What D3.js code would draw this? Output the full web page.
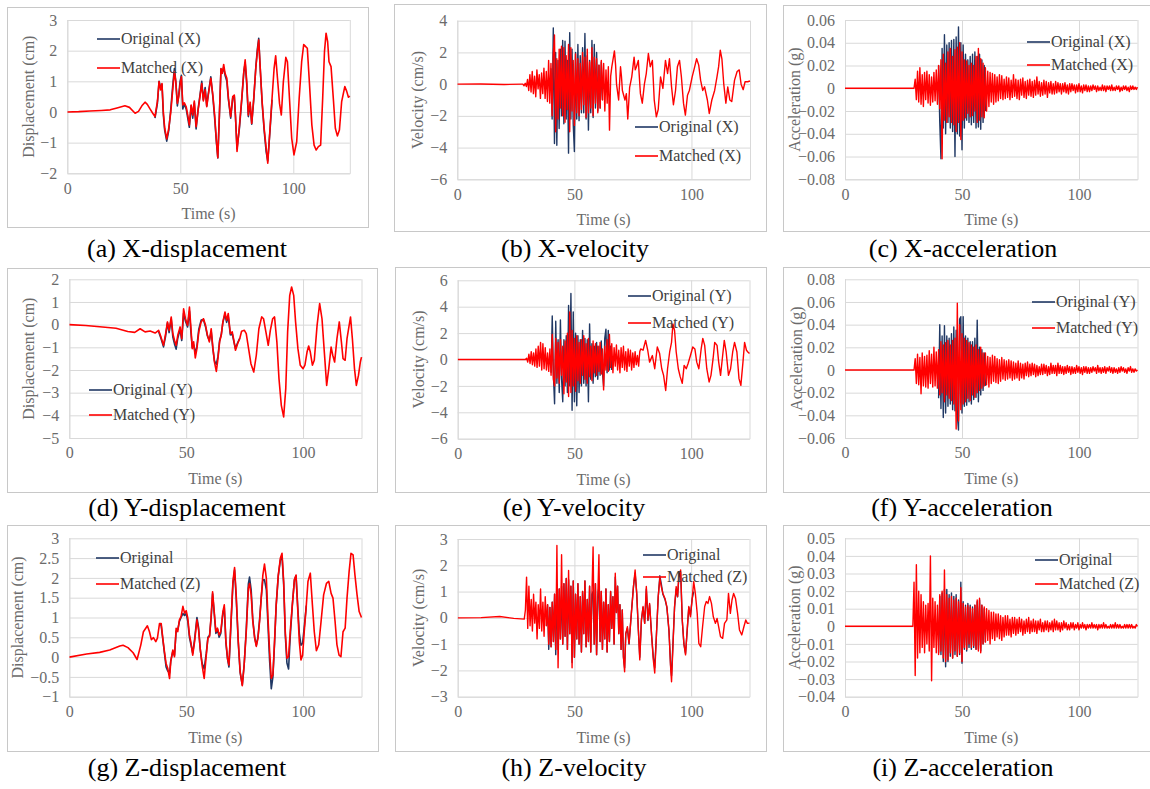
<!DOCTYPE html>
<html>
<head>
<meta charset="utf-8">
<script src="https://cdn.jsdelivr.net/npm/d3@7"></script>
<style>
  body { margin: 0; background: #fff; }
  svg { display: block; font-family: "Liberation Serif", "Times New Roman", serif; }
</style>
</head>
<body>
<svg id="chart" width="1150" height="789"></svg>
<script>
// ---------------------------------------------------------------------------
// Time axis shared by all nine panels
const timeTicks = [0, 50, 100];
const timeMax = 125;

// ---------------------------------------------------------------------------
// Displacement records: [time (s), displacement (cm)]
const dispXMatched = [[0,0],[5,0.01],[10,0.03],[15,0.05],[19,0.07],[22,0.13],[25.5,0.2],[27.5,0.15],[30,-0.04],[31.5,0.02],[33,0.2],[34.4,0.32],[35.4,0.25],[36.6,0.1],[37.8,-0.04],[38.8,-0.15],[39.9,0.36],[40.6,0.99],[41.3,0.72],[41.9,0.93],[42.5,0],[43.1,-0.53],[44,-0.88],[44.9,-0.53],[45.8,0],[46.7,0.77],[47.4,1.32],[48,0.99],[48.7,0.28],[49.3,0.5],[49.9,0.88],[50.5,1.15],[51.1,0.23],[51.8,0.3],[52.6,0.17],[53.3,-0.1],[54,-0.42],[54.8,0.23],[55.5,-0.1],[56.2,0.36],[57,-0.48],[57.9,0.07],[58.8,0.55],[59.5,0.93],[60.2,0.36],[61,0.72],[61.7,0.17],[62.3,0.5],[63.5,1.1],[64.4,0.55],[65.2,-0.1],[66,-0.97],[66.6,-1.49],[67.3,-0.1],[68,1.42],[68.6,1.26],[69.2,1.55],[69.8,1.26],[70.6,1.1],[71.3,0.45],[72.3,-0.15],[73.2,0.5],[73.9,0.55],[74.4,-0.1],[75.1,-1.29],[76.2,-0.42],[77.2,0.45],[78.1,1.32],[78.7,1.7],[79.4,0.99],[80.1,-0.1],[80.9,0.32],[81.6,-0.37],[82.5,0.45],[83.4,1.42],[84.1,1.97],[84.7,2.35],[85.3,1.53],[86.2,0.34],[87.1,-0.53],[88,-1.18],[88.7,-1.67],[89.7,-0.53],[90.6,0.45],[91.5,1.42],[92.2,1.83],[93,1.1],[93.9,0.28],[94.7,-0.1],[95.6,0.99],[96.7,1.78],[97.4,1.64],[98.3,0.45],[99.3,-0.86],[100.3,-1.4],[101.5,-0.97],[102.6,0.45],[103.7,1.64],[104.6,2.2],[105.5,2.13],[106.2,2.08],[107.1,0.99],[108.2,-0.42],[109.2,-1.08],[110.1,-1.24],[111.1,-1.13],[112.1,-1.08],[113,0.45],[113.8,1.97],[114.5,2.57],[115.2,2.29],[115.8,1.64],[116.7,1.48],[117.8,0.34],[118.6,-0.53],[119.5,-0.78],[120.4,-0.59],[121.4,0.34],[122.8,0.83],[123.6,0.68],[124.4,0.48],[125,0.52]];
const dispXOriginal = [[38.8,-0.2],[39.9,0.3],[40.6,1.0],[41.3,0.8],[41.9,0.9],[42.5,-0.1],[43.1,-0.6],[44,-0.95],[44.9,-0.6],[45.8,0.1],[46.7,0.9],[47.4,1.42],[48,1.0],[48.7,0.2],[49.3,0.55],[49.9,1.0],[50.5,1.2],[51.1,0.1],[51.8,0.25],[52.6,0.1],[53.3,-0.2],[54,-0.5],[54.8,0.2],[55.5,-0.2],[56.2,0.3],[57,-0.55],[57.9,0.1],[58.8,0.6],[59.5,1.0],[60.2,0.4],[61,0.8],[61.7,0.2],[62.3,0.55],[63.5,1.15],[64.4,0.5],[65.2,-0.2],[66,-1.0],[66.6,-1.5],[67.3,-0.1],[68,1.4],[68.6,1.3],[69.2,1.45],[69.8,1.2],[70.6,1.0],[71.3,0.4],[72.3,-0.2],[73.2,0.45],[73.9,0.5],[74.4,-0.15],[75.1,-1.2],[76.2,-0.5],[77.2,0.4],[78.1,1.3],[78.7,1.6],[79.4,0.9],[80.1,-0.15],[80.9,0.25],[81.6,-0.4],[82.5,0.4],[83.4,1.45],[84.1,2.05],[84.7,2.4],[85.3,1.5],[86.2,0.3],[87.1,-0.6],[88,-1.3],[88.7,-1.6],[89.7,-0.6],[90.6,0.4]];

const dispYMatched = [[0,0],[7,-0.04],[13,-0.09],[20,-0.16],[25,-0.3],[28,-0.34],[30.3,-0.18],[32.4,-0.32],[34.6,-0.28],[36.7,-0.37],[38.2,-0.25],[39.2,-0.54],[40.3,-0.91],[41.2,-0.4],[42,0.12],[42.7,-0.25],[43.6,0.34],[44.3,-0.4],[45,-0.69],[45.7,-0.91],[46.4,-0.47],[47.4,-0.1],[48.1,-0.62],[48.9,0.7],[49.7,0.26],[50.6,-0.03],[51.4,0.78],[52,-0.1],[52.6,-1.06],[53.2,-0.76],[53.9,-1.47],[54.6,-1.06],[55.4,-0.32],[56.4,0.12],[57.4,0.26],[58.3,-0.03],[59.1,-0.47],[59.9,-0.76],[60.7,-0.18],[61.4,-0.99],[62.1,-1.65],[62.9,-2.06],[63.6,-1.5],[64.3,-0.76],[65,-0.47],[65.7,0.12],[66.6,0.56],[67.3,0.19],[68,0.49],[68.9,-0.4],[69.7,-0.32],[70.4,-0.69],[71.1,-1.13],[72,-0.84],[72.9,-0.62],[73.7,-0.29],[74.9,-0.25],[75.7,-0.4],[76.7,-1.06],[77.7,-1.72],[78.9,-2.09],[80,-1.35],[81.1,-0.18],[82.3,0.34],[83.1,0.26],[84.1,-0.32],[85.1,-0.91],[86,-0.25],[87,0.26],[87.8,0.34],[88.8,-0.76],[89.7,-2.38],[90.7,-3.56],[91.7,-4.07],[92.6,-2.82],[93.4,-0.32],[94.3,1.29],[95.1,1.66],[96,1.29],[96.8,0.12],[97.8,-1.06],[98.8,-1.79],[100,-1.94],[100.8,-1.79],[101.7,-1.21],[102.4,-0.94],[103.1,-1.21],[104,-1.79],[104.8,-1.57],[106,-0.03],[107.1,0.93],[108.1,0.26],[109.1,-1.21],[110.1,-2.68],[111,-1.94],[112,-0.99],[112.7,-1.35],[113.5,-1.65],[114.5,-0.62],[115.5,0.12],[116.4,-0.76],[117.1,-1.5],[118,-1.57],[118.8,-0.62],[120.3,0.34],[121.1,-0.62],[122,-1.94],[122.8,-2.68],[123.7,-2.24],[124.5,-1.65],[125,-1.43]];
const dispYOriginal = [[38.2,-0.3],[39.2,-0.6],[40.3,-0.98],[41.2,-0.5],[42,0.08],[42.7,-0.35],[43.6,0.25],[44.3,-0.55],[45,-0.85],[45.7,-1.08],[46.4,-0.6],[47.4,-0.2],[48.1,-0.7],[48.9,0.5],[49.7,0.15],[50.6,-0.1],[51.4,0.6],[52,-0.3],[52.6,-1.0],[53.2,-0.9],[53.9,-1.25],[54.6,-0.95],[55.4,-0.2],[56.4,0.2],[57.4,0.22],[58.3,-0.1],[59.1,-0.5],[59.9,-0.7],[60.7,-0.3],[61.4,-1.05],[62.1,-1.6],[62.9,-1.75],[63.6,-1.4],[64.3,-0.7],[65,-0.45],[65.7,0.1],[66.6,0.45],[67.3,0.1],[68,0.35],[68.9,-0.45],[69.7,-0.4],[70.4,-0.75],[71.1,-1.05],[72,-0.8],[72.9,-0.6]];

const dispZMatched = [[0,0],[7.4,0.08],[13,0.12],[17.3,0.18],[21.6,0.28],[23,0.3],[25.1,0.24],[27.3,0.11],[29,-0.06],[30.6,0.31],[31.7,0.64],[32.7,0.73],[33.4,0.79],[34.3,0.64],[35.1,0.44],[36,0.49],[37,0.39],[37.7,0.48],[38.6,0.85],[39.3,0.85],[40,0.48],[40.7,0.14],[41.4,-0.16],[42.1,-0.28],[42.9,-0.54],[43.4,-0.11],[44.3,0.18],[45,0.01],[45.7,0.73],[46.4,0.64],[47.1,0.94],[47.8,1.02],[48.6,1.28],[49.3,1.11],[50,1.17],[50.7,0.98],[51.4,0.56],[52.1,0.35],[52.8,0.05],[53.6,0.39],[54.6,0.94],[55.3,0.69],[56,0.22],[56.8,-0.2],[57.7,-0.54],[58.6,0.05],[59.3,0.48],[60,0.52],[60.7,1.06],[61.3,1.65],[62,1.15],[62.7,0.64],[63.4,0.73],[64.1,0.56],[64.8,0.64],[65.7,1.15],[66.3,1.32],[67,0.39],[67.7,-0.03],[68.3,-0.2],[69.1,0.81],[70,1.91],[70.7,2.26],[71.4,1.57],[72.3,0.39],[73.1,-0.37],[74,-0.72],[74.8,-0.2],[75.7,0.64],[76.6,1.74],[77.1,1.86],[77.8,1.57],[78.5,0.9],[79.3,0.48],[80,0.27],[80.7,0.48],[81.4,0.9],[82.1,1.49],[82.8,2.07],[83.5,2.35],[84.3,1.99],[85,0.98],[85.7,0.14],[86.4,-0.54],[87.1,-0.45],[87.8,0.39],[88.5,1.32],[89.4,2.07],[90.3,2.5],[91,2.62],[91.7,1.91],[92.4,0.64],[93.1,-0.03],[93.8,0.01],[94.5,0.64],[95.4,1.32],[96.3,1.95],[97,2.07],[97.7,1.23],[98.4,0.39],[99.1,-0.07],[99.8,0.05],[100.5,0.64],[101.4,1.32],[102.1,1.91],[103.1,2.12],[104,1.32],[104.8,0.64],[105.7,0.16],[106.7,0.31],[107.7,0.9],[108.8,1.57],[110,1.86],[111,1.91],[112,1.61],[112.8,1.49],[113.7,0.9],[114.5,0.31],[115.4,0.05],[116.2,0.01],[117.1,0.64],[118,0.73],[118.8,1.49],[119.7,2.16],[120.5,2.62],[121.4,2.58],[122.2,2.07],[123.1,1.57],[124,1.15],[125,1.0]];
const dispZOriginal = [[38.6,0.85],[39.3,0.8],[40,0.45],[40.7,0.1],[41.4,-0.25],[42.1,-0.35],[42.9,-0.4],[43.4,-0.1],[44.3,0.15],[45,0.05],[45.7,0.65],[46.4,0.7],[47.1,0.9],[47.8,1.0],[48.6,1.1],[49.3,1.05],[50,1.1],[50.7,0.9],[51.4,0.5],[52.1,0.3],[52.8,0.1],[53.6,0.45],[54.6,1.0],[55.3,0.75],[56,0.2],[56.8,-0.15],[57.7,-0.3],[58.6,0.1],[59.3,0.5],[60,0.55],[60.7,1.0],[61.3,1.6],[62,1.1],[62.7,0.6],[63.4,0.7],[64.1,0.5],[64.8,0.6],[65.7,1.1],[66.3,1.25],[67,0.35],[67.7,-0.05],[68.3,-0.25],[69.1,0.75],[70,1.85],[70.7,2.2],[71.4,1.5],[72.3,0.35],[73.1,-0.4],[74,-0.7],[74.8,-0.2],[75.7,0.7],[76.6,1.85],[77.1,2.02],[77.8,1.7],[78.5,0.95],[79.3,0.5],[80,0.3],[80.7,0.5],[81.4,0.95],[82.1,1.5],[82.8,1.95],[83.5,1.95],[84.3,1.7],[85,0.8],[85.7,-0.1],[86.4,-0.8],[87.1,-0.5],[87.8,0.35],[88.5,1.3],[89.4,2.05],[90.3,2.45],[91,2.55],[91.7,1.85],[92.4,0.55],[93.1,-0.15],[93.8,-0.3],[94.5,0.5],[95.4,1.3],[96.3,1.95],[97,2.05],[97.7,1.3],[98.4,0.6],[99.1,0.3],[99.8,0.35],[100.5,0.75],[101.4,1.3]];

// ---------------------------------------------------------------------------
// Velocity records (cm/s). Quiet lead-in and slow tail as [time, value];
// the strong-motion part as samples every 0.5 s from the stated start time.
const velXLeadIn = [[0,0],[10,0.01],[20,-0.02],[27.5,0]];
const velXMatchedStart = 28;
const velXMatchedBurst = [0,-0.1,0.05,-0.15,0.3,-0.4,0.6,-0.5,0.8,-0.6,0.5,-0.8,0.9,-0.3,0.6,-0.9,0.7,-0.6,1.0,-0.9,0.8,-1.1,1.5,-1.2,1.3,-2.0,1.9,3.1,-3.0,1.6,-2.2,2.2,-1.5,2.4,-2.0,2.3,-2.4,1.8,-1.6,2.5,-3.0,2.3,-1.7,1.5,-2.6,1.9,-1.8,1.6,-2.0,1.3,-1.6,2.0,-1.3,1.7,-2.1,2.2,-1.8,1.4,-1.5,2.3,-2.0,1.7,-1.2,1.6,-1.8,1.2,-1.5,1.5,-1.0,1.3,-1.7,0.9,-1.2,1.1,-2.9,0.5,1.1];
const velXMatchedTail = [[67.1,2.1],[67.6,1.2],[68,0],[68.9,-1],[69.7,1.1],[70.1,0.5],[70.5,-0.4],[71.6,-1],[72.2,-0.6],[72.8,-2.2],[73.6,-0.2],[74.5,0.46],[75.5,1.7],[76,0.9],[76.5,1.1],[77.3,1.5],[78.2,-0.6],[79,-1.2],[79.9,0],[80.7,0.67],[81.6,1.93],[82.4,1.1],[83.3,1.5],[84.1,-1],[85,-2.06],[85.8,-1.6],[86.8,0.46],[87.8,-0.27],[88.9,1.5],[89.8,0.67],[90.6,1.6],[91.5,-0.17],[92.3,-1.3],[93.2,-0.4],[94,1.1],[94.9,1.5],[95.7,0.46],[96.6,-1.2],[97.4,-1.95],[98.3,-0.7],[99.1,-0.4],[100.3,0.46],[101.4,1.1],[102.2,1.6],[103.1,1.2],[103.9,0.25],[104.8,-0.4],[105.6,-0.17],[106.8,-1],[107.6,-1.85],[108.7,-1],[109.9,-0.4],[110.9,0.46],[111.6,1.1],[112.3,2.14],[113,1.6],[113.8,0],[114.7,-1.2],[115.5,-0.17],[116.4,-1],[117.2,-1.1],[118.4,0.25],[119.5,0.8],[120.4,0.9],[121.2,0],[122.1,-0.35],[122.9,0.15],[124,0.15],[125,0.2]];
const velXOriginalStart = 40;
const velXOriginalBurst = [1.0,-2.2,3.55,-3.75,2.0,-3.85,1.5,-2.8,2.2,-2.0,2.75,-2.5,2.7,-2.2,1.5,-4.35,3.25,-2.2,2.2,-2.5,-4.25,2.0,-2.2,2.5,-2.3,1.8,-1.8,2.3,-1.8,3.2,-2.2,1.8,-2.9,1.5,-1.8,2.75,-2.1,2.5,-1.5,2.0,-1.7,1.2,-1.5,1.4,-1.0];

const velYLeadIn = [[0,0],[28.5,0]];
const velYMatchedStart = 29;
const velYMatchedBurst = [0,0.1,-0.2,0.4,-0.3,0.6,-0.4,0.5,-0.5,0.8,-0.6,1.0,-0.5,1.3,-0.8,1.2,-0.7,0.9,-0.8,0.5,-0.9,0.8,-1.2,1.9,-1.5,-2.0,1.6,-1.4,1.3,-1.8,1.5,-1.2,1.0,-2.6,1.4,-1.7,2.0,-2.8,3.6,-2.5,2.2,-2.0,1.6,-2.4,1.8,-1.6,1.3,-1.8,1.5,-1.2,1.8,-1.5,1.2,-1.8,1.6,-1.3,1.0,-1.6,1.4,-1.0,1.2,-1.2,1.0,-0.9,1.3,-1.1,0.8,-2.3,1.0,-0.8,1.5,-0.9,1.9,-0.6,1.2,-1.0,0.9,-0.5,1.1,-0.8,0.7,-1.0,0.9,-0.6,1.0,-0.8,0.6,-0.9,0.8,-0.5,0.7,-0.8,0.5,-0.6,0.6,-0.4,0.3,-0.5,0.6];
const velYMatchedTail = [[78.4,0.8],[79.4,0.7],[80.5,1.45],[81.4,0.7],[82.2,-0.2],[83.4,0.3],[84.4,-0.7],[85.5,0.95],[86.5,0.45],[87.4,-0.7],[88.2,-1.2],[89.1,-2.35],[89.9,-0.7],[90.8,0.57],[91.6,1.3],[92.2,2.7],[92.9,2.2],[93.6,0.57],[94.5,-0.7],[95.3,-1.3],[96.2,-1.8],[97,-0.45],[97.9,-0.7],[98.7,-0.3],[99.7,0.3],[100.7,0.95],[101.6,0.8],[102.4,-0.2],[103.3,-0.7],[104.3,0.8],[105,1.6],[105.8,1.07],[106.7,-0.7],[107.7,-1.7],[108.5,-1.2],[109.4,0.06],[110.1,1.3],[111.1,1.07],[111.8,-0.2],[112.6,-1.2],[113.5,0.3],[114.2,1.45],[115,0.57],[116,-1.2],[116.9,-0.7],[117.8,0.57],[118.6,1.3],[119.6,0.57],[120.5,-1.45],[121.3,-1.96],[122.2,-0.2],[122.9,1.3],[123.7,0.7],[124.3,0.57],[125,0.45]];
const velYOriginalStart = 40;
const velYOriginalBurst = [-1.0,3.3,-1.2,-3.35,2.9,-1.8,1.5,-2.5,3.0,-1.5,-3.2,1.5,-2.0,1.8,-2.5,4.1,-2.0,5.0,-3.85,3.6,-3.2,2.0,-3.5,1.8,-2.5,1.5,-2.0,2.2,-1.8,1.6,-2.0,1.5,-3.2,2.7,-1.5,1.2,-1.8,1.0,-1.3,1.3,-1.5,1.0,-1.2,1.4,-1.0,-2.0,1.6,2.3,-1.0,2.2,-0.8,1.0,-0.8];

const velZLeadIn = [[0,0],[10,0.01],[18,0.05],[24,-0.02],[28.5,-0.05]];
const velZMatchedStart = 29;
const velZMatchedBurst = [0.3,1.55,-0.4,1.2,-0.3,0.7,-0.5,0.9,-0.2,0.6,-0.8,0.5,-0.4,1.1,-0.5,0.6,-0.7,0.8,-0.3,0.5,-1.0,0.4,-1.1,0.6,-0.9,0.9,-1.2,2.75,-1.9,1.1,-0.8,2.4,-1.0,1.3,-0.7,1.5,-1.2,1.8,-0.6,1.2,-1.9,1.4,-1.5,0.9,-0.8,1.3,-1.0,0.8,-1.3,1.0,-0.6,1.4,-1.1,0.7,-0.9,1.2,-1.3,0.9,2.7,-1.0,1.3,-1.4,0.8,2.4,-0.9,1.0,-1.2,0.6,-0.8,1.1,-1.3,0.5,-0.9,1.0,-0.4,0.8,-1.0,1.7,0.2,1.2,-0.6,0.5,-1.2,0.3,-1.5,-2.05,-0.6];
const velZMatchedTail = [[72.7,-0.34],[73.4,-0.97],[74.4,0.17],[75.3,1.19],[76,1.82],[76.7,0.93],[77.4,-0.46],[78,-1.6],[78.7,-0.08],[79.4,0.43],[80.1,-0.21],[80.8,1.19],[81.5,-0.08],[82.2,0.55],[83.1,-0.72],[83.8,-1.6],[84.4,-2.1],[85.1,-0.72],[85.9,0.81],[86.6,1.5],[87.2,1.19],[87.9,0.93],[88.8,0.74],[89.6,0.43],[90.5,-0.46],[91.2,-1.86],[91.6,-2.43],[92.2,-1.1],[92.9,0.43],[93.6,1.19],[94.2,0.81],[94.7,1.57],[95.5,1.82],[96.2,-0.08],[96.9,-0.97],[97.6,-1.41],[98.3,-0.46],[99,0.43],[99.7,0.04],[100.4,0.68],[101.1,1.38],[101.8,0.93],[102.6,0.17],[103.3,-0.97],[104.1,-1.1],[104.9,-0.34],[105.8,0.43],[106.5,0.62],[107.2,0.55],[107.9,0.81],[108.7,0.55],[109.5,0.04],[110.4,-0.21],[111.1,-0.02],[111.8,-0.34],[112.6,-0.72],[113.5,-0.78],[114.3,-0.21],[115.3,-0.08],[116,0.93],[116.8,0.17],[117.5,0.68],[118.2,0.93],[119,0.74],[119.9,0.17],[120.7,-0.46],[121.7,-0.65],[122.6,-0.34],[123.4,-0.08],[124.1,-0.21],[125,-0.2]];
const velZOriginalStart = 38;
const velZOriginalBurst = [-0.3,0.5,-1.2,0.4,-1.1,0.6,-0.9,0.9,-1.4,1.0,-1.2,1.1,-0.8,1.2,-1.0,1.3,-0.7,1.5,-1.2,1.45,-0.6,1.2,-1.7,1.4,-1.5,0.9,-0.8,1.3,-1.0,0.8,-1.3,1.0,-0.6,1.4,-1.1,0.7,-0.9,1.2,-1.3,0.9,1.0,-1.0,1.3,-1.4,0.8,1.2,-0.9,1.0,-1.2,0.6,-0.8,1.1,-1.3,0.5,-0.9,1.0,-0.4,0.8,-1.0,1.55,0.2,1.2,-0.6,0.5,-1.2,0.3,-1.5,-1.9,-0.6];
const velZOriginalTail = [[72.7,-0.4],[73.4,-1.0],[74.4,0.2],[75.3,1.2],[76,1.7],[76.7,0.9],[77.4,-0.5],[78,-1.5],[78.7,-0.1],[79.4,0.4],[80.1,-0.2],[80.8,1.1],[81.5,-0.1],[82.2,0.5],[83.1,-0.7],[83.8,-1.5],[84.4,-1.9],[85.1,-0.7],[85.9,0.8],[86.6,1.6],[87.2,1.3],[87.9,0.9],[88.8,0.7],[89.6,0.4],[90.5,-0.5],[91.2,-1.8],[91.6,-2.2],[92.2,-1.0],[92.9,0.4],[93.6,1.1],[94.2,0.8],[94.7,1.5],[95.5,1.75],[96.2,-0.1],[96.9,-1.0],[97.6,-1.35],[98.3,-0.5],[99,0.4],[99.7,0.1],[100.4,0.7],[101.1,1.0]];

// ---------------------------------------------------------------------------
// Acceleration records in milli-g, samples every 0.5 s from the start time
const accXLeadIn = [[0,0],[29,0]];
const accXMatchedStart = 29.5;
const accXMatched = [0,8,-10,15,-12,18,-14,12,-16,14,-10,15,-13,12,-15,10,-12,14,-11,16,-14,20,-18,25,-62,30,-28,22,-30,32,-25,35,-30,28,-32,34,-38,36,-30,40,-45,32,-28,25,-26,24,-22,20,-25,22,-24,20,-20,28,-30,35,-28,26,-25,22,-26,18,-20,15,-16,14,-12,13,-14,12,-12,10,-11,12,-9,11,-10,8,-9,10,-8,9,-10,7,-8,12,-7,8,-9,7,-10,8,-6,9,-8,6,-9,7,-6,8,-7,6,-8,7,-6,10,-5,6,-7,5,-6,7,-5,6,-8,5,-4,6,-5,4,-5,6,-4,5,-3,4,-5,4,-3,5,-4,3,-5,4,-3,4,-2,3,-4,3,-3,4,-3,2,-4,3,-2,3,-3,2,-3,2,-2,3,-1,2,-3,2,-2,1,-2,3,-2,2,-3,2,-1,2,-2,3,-2,1,-2,2,-1,2,-3,1,-2,2,-1,2,-2,1,-3,2,-1,2,-1,1,-1,1];
const accXOriginalStart = 40;
const accXOriginal = [20,-30,-62,35,-35,47,-40,38,-30,40,-35,42,-38,43,-60,45,-40,54,-42,40,-54,38,-35,30,-28,25,-30,28,-32,30,-30,32,-35,28,-34,30,-36,25,-30,20,-20];

const accYLeadIn = [[0,0],[29,0]];
const accYMatchedStart = 29.5;
const accYMatched = [0,10,-12,14,-13,11,-21,15,-14,12,-15,13,-16,17,-12,14,-15,20,-14,16,-16,18,-22,25,-20,22,-28,24,-22,26,-25,22,-27,26,-30,28,-52,59,-45,40,-35,32,-30,28,-28,26,-25,24,-27,22,-22,20,-24,22,-20,18,-18,20,-16,15,-14,15,-13,12,-15,11,-12,13,-10,12,-11,10,-12,9,-10,11,-8,9,-9,8,-8,9,-7,8,-9,7,-8,6,-7,8,-9,6,-7,5,-8,6,-5,7,-6,5,-5,6,-4,5,-6,4,-5,3,-4,5,-4,5,-3,4,-5,3,-4,6,-3,4,-3,4,-5,6,-3,4,-3,3,-4,3,-3,4,-2,3,-4,3,-3,2,-3,4,-2,3,-3,2,-4,3,-2,3,-3,2,-3,2,-2,3,-1,2,-3,4,-2,2,-3,2,-2,3,-3,2,-1,3,-2,2,-3,2,-2,1,-3,2,-2,3,-1,2,-2,1,-3,2,-1,3,-2,1,-2,1,-1,0];
const accYOriginalStart = 40;
const accYOriginal = [-25,40,-34,30,-42,39,-38,30,-32,28,-30,32,-35,38,-36,35,-40,-53,45,47,-38,47,-32,30,-31,28,-28,25,-30,25,-26,28,-24,44,-28,20,-22,18,-18,15,-14];

const accZLeadIn = [[0,0],[28.5,0]];
const accZMatchedStart = 29;
const accZMatched = [0,25,-28,35,-18,20,-15,18,-12,14,-15,12,-10,13,-14,40,-31,16,-12,14,-15,12,-16,18,-14,20,-18,32,-20,18,-19,16,-15,17,-18,15,-14,16,-17,14,-15,22,-20,13,-12,11,-13,12,-10,11,-12,10,-11,12,-13,15,-14,16,-15,12,-10,11,-9,10,-8,9,-10,8,-7,8,-8,7,-6,7,-7,6,-8,5,-6,6,-5,6,-5,4,-6,5,-4,5,-5,4,-4,5,-3,4,-5,3,-4,4,-3,5,-4,3,-3,4,-3,3,-4,3,-2,4,-3,2,-3,3,-2,3,-3,2,-2,3,-3,4,-2,3,-2,2,-3,2,-2,3,-1,2,-2,1,-2,2,-1,2,-2,1,-1,2,-2,1,-1,2,-1,1,-2,1,-1,1,-1,2,-1,1,-1,1,-2,1,-1,1,-1,2,-1,1,-1,0,-1,1,-1,1,-1,2,-1,1,-1,1,-1,0,-1,1,-1,1,-1,1,-1,1,-1,0,-1,1,0];
const accZOriginalStart = 40;
const accZOriginal = [-15,17,-16,19,-20,21,-23,21,-20,18,-17,19,-18,17,-16,18,-17,15,-16,25,-21,14,-13,12,-14,13,-12,12,-13,11,-12,12,-13,14,-13,15,-14,12,-10,10,-9];

// ---------------------------------------------------------------------------
// Y-axis ticks for each panel
const dispXTicks = [3, 2, 1, 0, -1, -2];
const velXTicks = [4, 2, 0, -2, -4, -6];
const accXTicks = [0.06, 0.04, 0.02, 0, -0.02, -0.04, -0.06, -0.08];
const dispYTicks = [2, 1, 0, -1, -2, -3, -4, -5];
const velYTicks = [6, 4, 2, 0, -2, -4, -6];
const accYTicks = [0.08, 0.06, 0.04, 0.02, 0, -0.02, -0.04, -0.06];
const dispZTicks = [3, 2.5, 2, 1.5, 1, 0.5, 0, -0.5, -1];
const velZTicks = [3, 2, 1, 0, -1, -2, -3];
const accZTicks = [0.05, 0.04, 0.03, 0.02, 0.01, 0, -0.01, -0.02, -0.03, -0.04];

// ---------------------------------------------------------------------------
// Helpers turning the records into [time, value] point lists
const asPoints = list => list.map(([t, v]) => [t, v]);
const sampled = (start, values, unit = 1) => values.map((v, i) => [start + i * 0.5, v * unit]);
const MG = 0.001;

const panels = [
  { caption: "(a) X-displacement", yTitle: "Displacement (cm)", ticks: dispXTicks,
    frame: [7, 7, 368, 227], plot: [67.3, 20, 349.8, 173.3], titleDx: -38, capX: 187, capY: 257,
    legend: [97, 39, 68], names: ["Original (X)", "Matched (X)"], width: 1.6,
    original: asPoints(dispXOriginal), matched: asPoints(dispXMatched) },
  { caption: "(b) X-velocity", yTitle: "Velocity (cm/s)", ticks: velXTicks,
    frame: [394, 4, 766, 231], plot: [457.3, 20.7, 750, 179.3], titleDx: -39, capX: 575, capY: 257,
    legend: [635, 127, 156], names: ["Original (X)", "Matched (X)"], width: 1.4,
    original: sampled(velXOriginalStart, velXOriginalBurst),
    matched: [...asPoints(velXLeadIn), ...sampled(velXMatchedStart, velXMatchedBurst), ...asPoints(velXMatchedTail)] },
  { caption: "(c) X-acceleration", yTitle: "Acceleration (g)", ticks: accXTicks,
    frame: [783, 5, 1152, 231], plot: [845, 20, 1137.5, 179.3], titleDx: -50, capX: 963, capY: 257,
    legend: [1027, 42, 65], names: ["Original (X)", "Matched (X)"], width: 1.4,
    original: sampled(accXOriginalStart, accXOriginal, MG),
    matched: [...asPoints(accXLeadIn), ...sampled(accXMatchedStart, accXMatched, MG)] },
  { caption: "(d) Y-displacement", yTitle: "Displacement (cm)", ticks: dispYTicks,
    frame: [7, 268, 377, 492], plot: [69.3, 279.3, 361.5, 438], titleDx: -40, capX: 187, capY: 516,
    legend: [89, 390, 415], names: ["Original (Y)", "Matched (Y)"], width: 1.6,
    original: asPoints(dispYOriginal), matched: asPoints(dispYMatched) },
  { caption: "(e) Y-velocity", yTitle: "Velocity (cm/s)", ticks: velYTicks,
    frame: [395, 267, 766, 492], plot: [457.7, 280.3, 749.5, 438.7], titleDx: -39, capX: 574, capY: 516,
    legend: [628, 296, 323], names: ["Original (Y)", "Matched (Y)"], width: 1.4,
    original: sampled(velYOriginalStart, velYOriginalBurst),
    matched: [...asPoints(velYLeadIn), ...sampled(velYMatchedStart, velYMatchedBurst), ...asPoints(velYMatchedTail)] },
  { caption: "(f) Y-acceleration", yTitle: "Acceleration (g)", ticks: accYTicks,
    frame: [783, 267, 1152, 492], plot: [845, 279.3, 1137.5, 438], titleDx: -48, capX: 962, capY: 516,
    legend: [1032, 302, 328], names: ["Original (Y)", "Matched (Y)"], width: 1.4,
    original: sampled(accYOriginalStart, accYOriginal, MG),
    matched: [...asPoints(accYLeadIn), ...sampled(accYMatchedStart, accYMatched, MG)] },
  { caption: "(g) Z-displacement", yTitle: "Displacement (cm)", ticks: dispZTicks,
    frame: [7, 525, 378, 751], plot: [69.3, 538.3, 361.5, 696.7], titleDx: -51, capX: 187, capY: 776,
    legend: [96, 558, 584], names: ["Original", "Matched (Z)"], width: 1.6,
    original: asPoints(dispZOriginal), matched: asPoints(dispZMatched) },
  { caption: "(h) Z-velocity", yTitle: "Velocity (cm/s)", ticks: velZTicks,
    frame: [395, 525, 766, 751], plot: [457.7, 539, 749.5, 696.7], titleDx: -39, capX: 574, capY: 776,
    legend: [643, 555, 577], names: ["Original", "Matched (Z)"], width: 1.4,
    original: [...sampled(velZOriginalStart, velZOriginalBurst), ...asPoints(velZOriginalTail)],
    matched: [...asPoints(velZLeadIn), ...sampled(velZMatchedStart, velZMatchedBurst), ...asPoints(velZMatchedTail)] },
  { caption: "(i) Z-acceleration", yTitle: "Acceleration (g)", ticks: accZTicks,
    frame: [783, 525, 1152, 751], plot: [845, 538.3, 1137.5, 696.7], titleDx: -50, capX: 963, capY: 776,
    legend: [1035, 560, 584], names: ["Original", "Matched (Z)"], width: 1.4,
    original: sampled(accZOriginalStart, accZOriginal, MG),
    matched: [...asPoints(accZLeadIn), ...sampled(accZMatchedStart, accZMatched, MG)] }
];

const COLORS = { original: "#203864", matched: "#ff0000" };
const GRID = "#d9d9d9";
const TICK_TEXT = "#6b6b6b";

const svg = d3.select("#chart");

panels.forEach((p, idx) => {
  const [fx0, fy0, fx1, fy1] = p.frame;
  const [px0, py0, px1, py1] = p.plot;
  const g = svg.append("g");

  g.append("rect")
    .attr("x", fx0 + 0.5).attr("y", fy0 + 0.5)
    .attr("width", fx1 - fx0).attr("height", fy1 - fy0)
    .attr("fill", "#fff").attr("stroke", "#c8c8c8").attr("stroke-width", 1);

  const x = d3.scaleLinear().domain([0, timeMax]).range([px0, px1]);
  const y = d3.scaleLinear().domain([d3.min(p.ticks), d3.max(p.ticks)]).range([py1, py0]);

  // horizontal grid + y tick labels
  const yAxis = d3.axisLeft(y).tickValues(p.ticks).tickSize(-(px1 - px0)).tickPadding(10)
    .tickFormat(d => d3.format("~g")(+d.toFixed(3)));
  const ya = g.append("g").attr("transform", `translate(${px0},0)`).call(yAxis);
  ya.select(".domain").remove();
  ya.selectAll(".tick line").attr("stroke", GRID).attr("stroke-width", 1);
  ya.selectAll(".tick text").attr("fill", TICK_TEXT).attr("font-size", 16)
    .attr("font-family", "Liberation Serif, Times New Roman, serif");

  // vertical grid + time tick labels
  const xAxis = d3.axisBottom(x).tickValues(timeTicks).tickSize(-(py1 - py0)).tickPadding(9);
  const xa = g.append("g").attr("transform", `translate(0,${py1})`).call(xAxis);
  xa.select(".domain").attr("stroke", GRID);
  xa.selectAll(".tick line").attr("stroke", GRID).attr("stroke-width", 1);
  xa.selectAll(".tick text").attr("fill", TICK_TEXT).attr("font-size", 16)
    .attr("font-family", "Liberation Serif, Times New Roman, serif");

  // axis titles
  g.append("text")
    .attr("x", (px0 + px1) / 2).attr("y", py1 + 46)
    .attr("text-anchor", "middle").attr("fill", TICK_TEXT).attr("font-size", 16)
    .text("Time (s)");
  g.append("text")
    .attr("transform", `translate(${px0 + p.titleDx},${(py0 + py1) / 2}) rotate(-90)`)
    .attr("text-anchor", "middle").attr("dy", "0.32em")
    .attr("fill", TICK_TEXT).attr("font-size", 16)
    .text(p.yTitle);

  // records
  const clipId = `clip-${idx}`;
  g.append("clipPath").attr("id", clipId).append("rect")
    .attr("x", px0).attr("y", py0 - 2).attr("width", px1 - px0 + 2).attr("height", py1 - py0 + 4);
  const line = d3.line().x(d => x(d[0])).y(d => y(d[1]));
  const lines = g.append("g").attr("clip-path", `url(#${clipId})`);
  lines.append("path").datum(p.original)
    .attr("d", line).attr("fill", "none")
    .attr("stroke", COLORS.original).attr("stroke-width", p.width).attr("stroke-linejoin", "round");
  lines.append("path").datum(p.matched)
    .attr("d", line).attr("fill", "none")
    .attr("stroke", COLORS.matched).attr("stroke-width", p.width).attr("stroke-linejoin", "round");

  // legend
  const [lx, ly1, ly2] = p.legend;
  [[ly1, COLORS.original, p.names[0]], [ly2, COLORS.matched, p.names[1]]].forEach(([ly, c, name]) => {
    g.append("line").attr("x1", lx).attr("x2", lx + 23).attr("y1", ly).attr("y2", ly)
      .attr("stroke", c).attr("stroke-width", 1.6);
    g.append("text").attr("x", lx + 24).attr("y", ly).attr("dy", "0.33em")
      .attr("fill", "#404040").attr("font-size", 16).text(name);
  });

  // caption under the panel
  svg.append("text")
    .attr("x", p.capX).attr("y", p.capY)
    .attr("text-anchor", "middle").attr("fill", "#000").attr("font-size", 26)
    .text(p.caption);
});
</script>
</body>
</html>
